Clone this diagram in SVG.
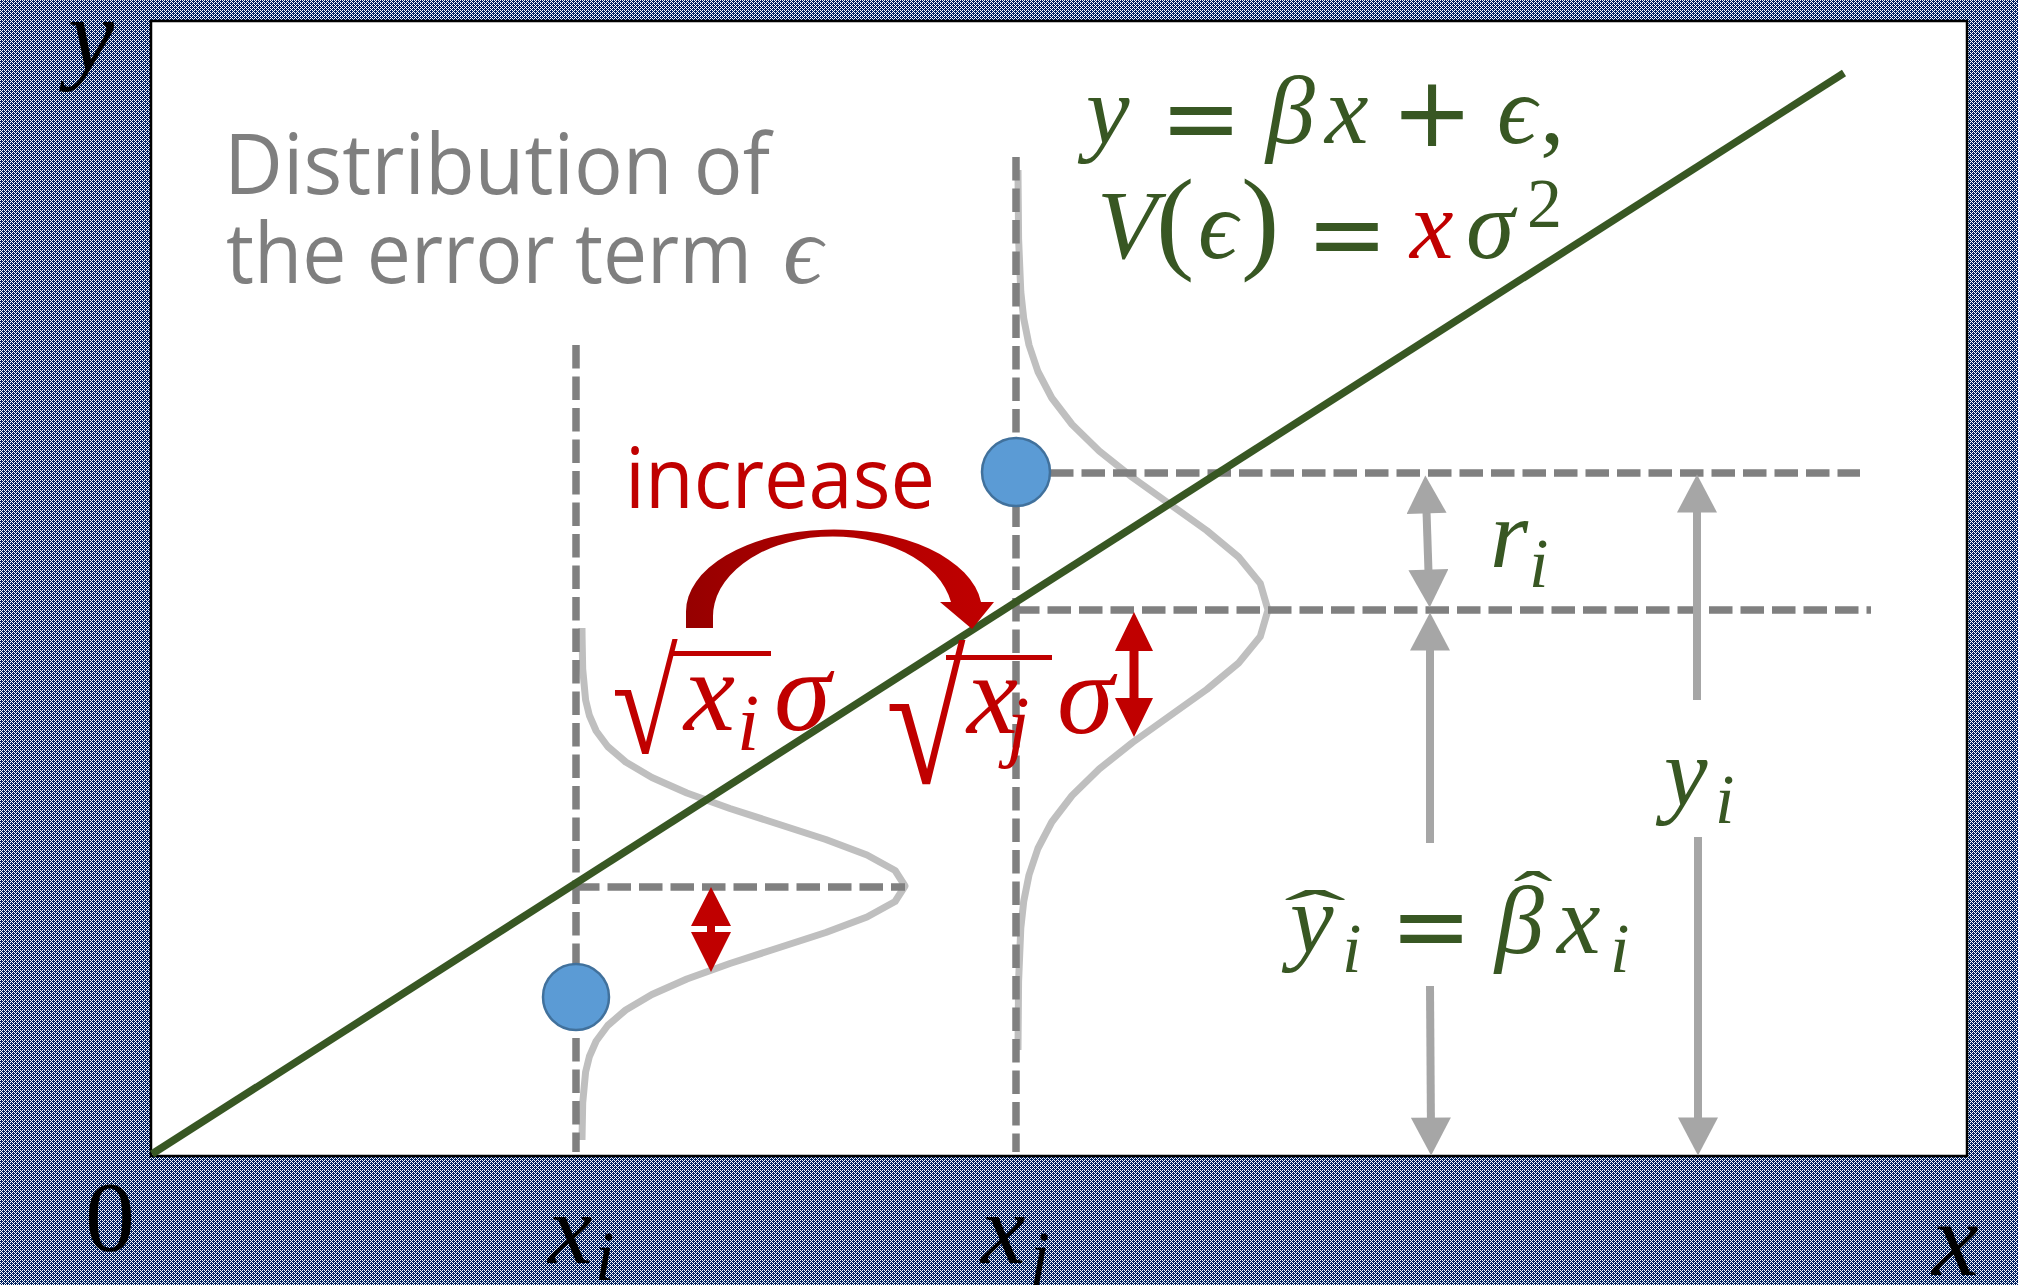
<svg xmlns="http://www.w3.org/2000/svg" width="2018" height="1285" viewBox="0 0 2018 1285">
<style>
.m{font-family:"Liberation Serif","DejaVu Serif",serif;font-style:italic}
.u{font-family:"Liberation Serif","DejaVu Serif",serif}
.op{font-family:"DejaVu Sans",sans-serif}
.ui{font-family:"Open Sans","Noto Sans",sans-serif}
.g{fill:#385723}.r{fill:#C00000}.k{fill:#000}.gr{fill:#7F7F7F}
.dash{stroke:#808080;stroke-width:7.5;stroke-dasharray:23.5 8;fill:none}
.curve{stroke:#BFBFBF;stroke-width:7;fill:none;stroke-linejoin:round}
.garrow{stroke:#A6A6A6;stroke-width:8;fill:none}
.dot{fill:#5B9BD5;stroke:#41719C;stroke-width:2.5}
.rarrow{fill:#C00000}
</style>
<defs>
<pattern id="bg" width="8" height="8" patternUnits="userSpaceOnUse">
<rect width="8" height="8" fill="#002060"/>
<path fill="#FFFFFF" shape-rendering="crispEdges" d="M0 0h1v1h-1zM2 0h1v1h-1zM4 0h1v1h-1zM6 0h1v1h-1zM3 1h1v1h-1zM7 1h1v1h-1zM0 2h1v1h-1zM2 2h1v1h-1zM4 2h1v1h-1zM6 2h1v1h-1zM1 3h1v1h-1zM5 3h1v1h-1zM0 4h1v1h-1zM2 4h1v1h-1zM4 4h1v1h-1zM6 4h1v1h-1zM3 5h1v1h-1zM7 5h1v1h-1zM0 6h1v1h-1zM2 6h1v1h-1zM4 6h1v1h-1zM6 6h1v1h-1zM1 7h1v1h-1zM5 7h1v1h-1z"/>
</pattern>
<marker id="gh" markerUnits="userSpaceOnUse" markerWidth="40" markerHeight="40" viewBox="0 0 37 39" refX="17" refY="19.5" orient="auto-start-reverse">
<path d="M0,0 L37,19.5 L0,39 Z" fill="#A6A6A6"/>
</marker>
<linearGradient id="rg" x1="686" y1="0" x2="994" y2="0" gradientUnits="userSpaceOnUse">
<stop offset="0" stop-color="#960000"/>
<stop offset="0.5" stop-color="#B00000"/>
<stop offset="1" stop-color="#C00000"/>
</linearGradient>
</defs>

<rect id="background" x="0" y="0" width="2018" height="1285" fill="url(#bg)"/>
<rect id="plot-area" x="151" y="21" width="1816" height="1135" fill="#FFFFFF" stroke="#000000" stroke-width="2.5"/>

<g id="distribution-i">
<polyline class="curve" points="582,628 582.1,638 582.7,669 585.6,700 589.4,715.5 596.2,731 607.7,746.5 625.7,762 651.9,777.5 686.9,793 729.9,808.5 777.9,824 825.8,839.5 867,855 895.1,870.5 905,886 895.1,901.5 867,917 825.8,932.5 777.9,948 729.9,963.5 686.9,979 651.9,994.5 625.7,1010 607.7,1025.5 596.2,1041 589.4,1056.5 585.6,1072 582.7,1103 582.1,1134 582,1140"/>
</g>
<g id="distribution-j">
<polyline class="curve" points="1018,170 1018.1,186 1018.6,239 1020.8,292 1023.7,318.5 1029,345 1037.9,371.5 1051.8,398 1072.1,424.5 1099.2,451 1132.5,477.5 1169.6,504 1206.7,530.5 1238.6,557 1260.3,583.5 1268,610 1260.3,636.5 1238.6,663 1206.7,689.5 1169.6,716 1132.5,742.5 1099.2,769 1072.1,795.5 1051.8,822 1037.9,848.5 1029,875 1023.7,901.5 1020.8,928 1018.6,981 1018.1,1034 1018,1050"/>
</g>

<g id="guides">
<line class="dash" x1="576" y1="345" x2="576" y2="1152"/>
<line class="dash" x1="1016" y1="157" x2="1016" y2="1152"/>
<line class="dash" x1="1050" y1="473" x2="1860" y2="473"/>
<line class="dash" x1="1016" y1="610" x2="1871" y2="610"/>
<line class="dash" x1="576" y1="887" x2="905" y2="887"/>
</g>

<g id="regression-line">
<line x1="152" y1="1154" x2="1844" y2="73" stroke="#385723" stroke-width="7.5"/>
</g>

<g id="point-i"><circle class="dot" cx="576" cy="997" r="33"/></g>
<g id="point-j"><circle class="dot" cx="1016" cy="472" r="34"/></g>

<g id="connectors">
<line class="garrow" x1="1426" y1="496" x2="1429" y2="587" marker-start="url(#gh)" marker-end="url(#gh)"/>
<line class="garrow" x1="1430" y1="843" x2="1430" y2="633" marker-end="url(#gh)"/>
<line class="garrow" x1="1430" y1="986" x2="1431" y2="1135" marker-end="url(#gh)"/>
<line class="garrow" x1="1697" y1="700" x2="1697" y2="495" marker-end="url(#gh)"/>
<line class="garrow" x1="1698" y1="837" x2="1698" y2="1135" marker-end="url(#gh)"/>
<path class="rarrow" d="M711,887 L731,926 L715,926 L715,932 L731,932 L711,972 L691,932 L707,932 L707,926 L691,926 Z"/>
<path class="rarrow" d="M1134,612 L1153,651 L1138.5,651 L1138.5,698 L1153,698 L1134,737 L1115,698 L1129.5,698 L1129.5,651 L1115,651 Z"/>
<path id="increase-arrow" fill="url(#rg)" d="M686,628 L686,612 A148,82 0 0 1 981,602 L994,602 L972,629 L940,602 L951,602 A120,80 0 0 0 713,618 L713,628 Z"/>
</g>

<g id="labels">
<text class="m k" x="68" y="70" font-size="104">y</text>
<text class="u k" x="110" y="1250" font-size="100" text-anchor="middle">0</text>
<text class="m k" x="548" y="1263" font-size="100">x</text>
<text class="m k" x="595" y="1280" font-size="70">i</text>
<text class="m k" x="981" y="1263" font-size="100">x</text>
<text class="m k" x="1030" y="1280" font-size="70">j</text>
<text class="m k" x="1932" y="1275" font-size="105">x</text>

<text class="ui gr" x="224" y="194" font-size="84" textLength="546" lengthAdjust="spacingAndGlyphs">Distribution of</text>
<text class="ui gr" x="226" y="283" font-size="84" textLength="526" lengthAdjust="spacingAndGlyphs">the error term</text>
<text class="m gr" x="783" y="283" font-size="98">ϵ</text>

<text class="ui r" x="625" y="508" font-size="84" textLength="310" lengthAdjust="spacingAndGlyphs">increase</text>

<text class="m g" x="1086" y="143" font-size="98">y</text>
<text class="op g" x="1201" y="152" font-size="98" text-anchor="middle">=</text>
<text class="m g" x="1266" y="143" font-size="98">β</text>
<text class="m g" x="1325" y="143" font-size="98">x</text>
<text class="op g" x="1432" y="146" font-size="98" text-anchor="middle">+</text>
<text class="m g" x="1497" y="143" font-size="98">ϵ</text>
<text class="u g" x="1540" y="143" font-size="98">,</text>

<text class="m g" x="1097" y="258" font-size="98">V</text>
<text class="u g" x="1156" y="258" font-size="115">(</text>
<text class="m g" x="1198" y="258" font-size="98">ϵ</text>
<text class="u g" x="1241" y="258" font-size="115">)</text>
<text class="op g" x="1347" y="268" font-size="98" text-anchor="middle">=</text>
<text class="m r" x="1410" y="258" font-size="98">x</text>
<text class="m g" x="1466" y="258" font-size="98">σ</text>
<text class="u g" x="1527" y="227" font-size="70">2</text>

<text class="u r" font-size="110" transform="translate(612 753) scale(1.09 1.31)">√</text>
<rect class="r" x="670" y="651" width="101" height="5"/>
<text class="m r" x="684" y="730" font-size="115">x</text>
<text class="m r" x="737" y="750" font-size="80">i</text>
<text class="m r" x="774" y="730" font-size="115">σ</text>

<text class="u r" font-size="138" transform="translate(886 783) scale(1.05 1.31)">√</text>
<rect class="r" x="946" y="655" width="106" height="5"/>
<text class="m r" x="967" y="733" font-size="115">x</text>
<text class="m r" x="1007" y="752" font-size="80">j</text>
<text class="m r" x="1057" y="733" font-size="115">σ</text>

<text class="m g" x="1490" y="567" font-size="98">r</text>
<text class="m g" x="1529" y="587" font-size="70">i</text>

<text class="m g" x="1664" y="805" font-size="98">y</text>
<text class="m g" x="1715" y="823" font-size="70">i</text>

<text class="m g" x="1290" y="952" font-size="98">y</text>
<text class="u g" transform="translate(1315 937) scale(1.9 0.7)" font-size="98" text-anchor="middle">ˆ</text>
<text class="m g" x="1342" y="972" font-size="70">i</text>
<text class="op g" x="1431" y="960" font-size="98" text-anchor="middle">=</text>
<text class="m g" x="1495" y="953" font-size="98">β</text>
<text class="u g" transform="translate(1533 918) scale(1.2 0.7)" font-size="98" text-anchor="middle">ˆ</text>
<text class="m g" x="1557" y="953" font-size="98">x</text>
<text class="m g" x="1610" y="972" font-size="70">i</text>
</g>
</svg>
